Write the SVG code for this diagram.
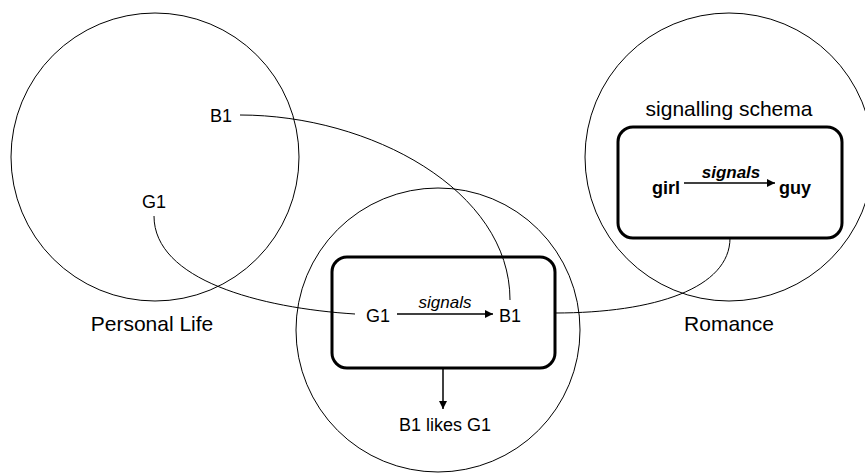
<svg xmlns="http://www.w3.org/2000/svg" width="865" height="473" viewBox="0 0 865 473">
  <defs>
    <marker id="head" viewBox="0 0 10 10" refX="10" refY="5" markerWidth="10" markerHeight="8" markerUnits="userSpaceOnUse" orient="auto">
      <path d="M0,0 L10,5 L0,10 Z" fill="#000"/>
    </marker>
    <style>
      .domain { fill: none; stroke: #000; stroke-width: 1; }
      .schema { fill: #fff; stroke: #000; stroke-width: 3; }
      .link { fill: none; stroke: #000; stroke-width: 1; }
      .arrow { fill: none; stroke: #000; stroke-width: 1.5; marker-end: url(#head); }
      text { font-family: "Liberation Sans", Arial, sans-serif; font-size: 18px; fill: #000; }
      .label { font-size: 21px; }
      .rel { font-style: italic; font-size: 17px; text-anchor: middle; }
      .bold { font-weight: bold; }
      .mid { text-anchor: middle; }
    </style>
  </defs>

  <!-- domain circles -->
  <g id="personal-life">
    <circle class="domain" cx="155" cy="157" r="144"/>
    <text class="label mid" x="152" y="331">Personal Life</text>
    <text id="pl-b1" x="210" y="122">B1</text>
    <text id="pl-g1" x="142" y="208">G1</text>
  </g>

  <g id="romance">
    <circle class="domain" cx="729" cy="157" r="144"/>
    <text class="label mid" x="729" y="331">Romance</text>
    <text class="label mid" x="729" y="116">signalling schema</text>
  </g>

  <g id="blend-space">
    <circle class="domain" cx="438" cy="330" r="142"/>
  </g>

  <!-- signalling schema inside Romance -->
  <g id="schema-generic">
    <rect class="schema" x="618" y="127" width="224" height="111" rx="15" ry="15"/>
    <text class="bold" x="652" y="194" font-size="16">girl</text>
    <text class="bold" x="779" y="194" font-size="16">guy</text>
    <text class="rel bold" x="731" y="178" font-size="16">signals</text>
    <line class="arrow" x1="684" y1="183" x2="775" y2="183"/>
  </g>

  <!-- blended schema -->
  <g id="schema-blend">
    <rect class="schema" x="332" y="257" width="223" height="111" rx="15" ry="15"/>
    <text x="366" y="322">G1</text>
    <text x="499" y="322">B1</text>
    <text class="rel" x="445" y="308">signals</text>
    <line class="arrow" x1="397" y1="314" x2="493" y2="314"/>
  </g>

  <g id="inference">
    <text class="mid" x="445" y="431">B1 likes G1</text>
  </g>

  <!-- connectors -->
  <g id="connectors">
    <path class="link" d="M240,115 C370,115 510,190 510,300"/>
    <path class="link" d="M154,216 C154,280 260,308 355,314"/>
    <path class="link" d="M555,313 C655,313 730,288 730,238"/>
    <line class="arrow" x1="443" y1="368" x2="443" y2="409"/>
  </g>
</svg>
